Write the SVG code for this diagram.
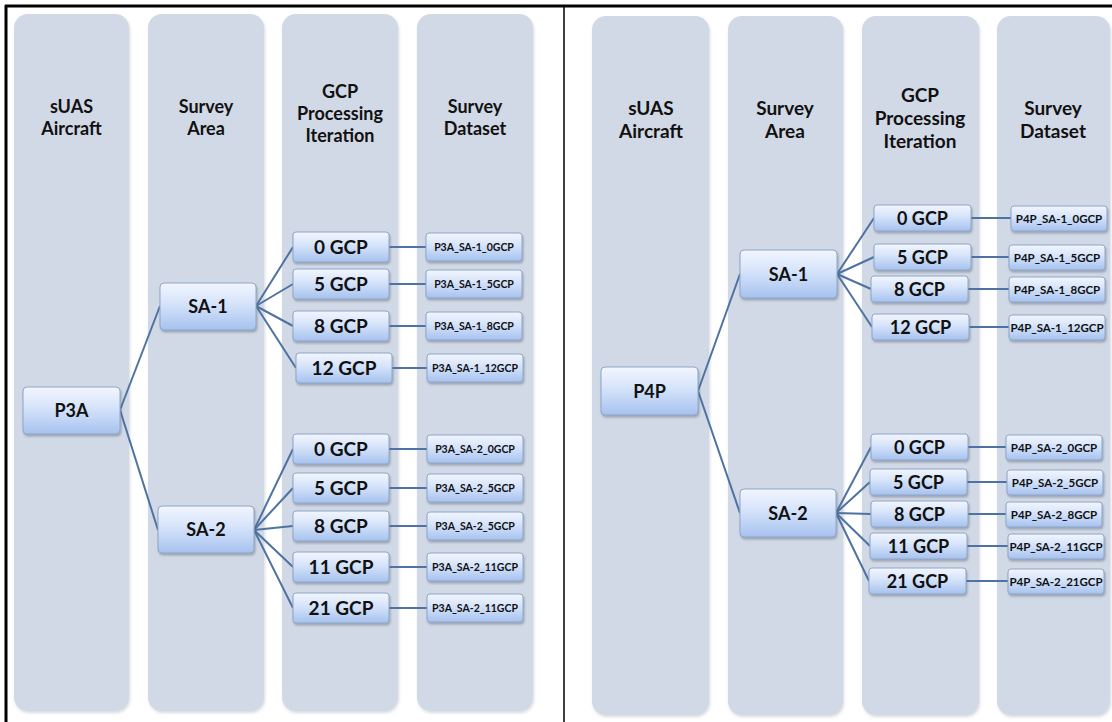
<svg xmlns="http://www.w3.org/2000/svg" width="1112" height="722" viewBox="0 0 1112 722">
<defs>
<linearGradient id="nodeGrad" x1="0" y1="0" x2="0" y2="1">
<stop offset="0" stop-color="#f2f6fe"/>
<stop offset="0.45" stop-color="#d5e3fa"/>
<stop offset="1" stop-color="#a6c2ef"/>
</linearGradient>
<filter id="nshadow" x="-10%" y="-20%" width="125%" height="150%">
<feDropShadow dx="1" dy="2" stdDeviation="1" flood-color="#5a6270" flood-opacity="0.45"/>
</filter>
<filter id="lshadow" x="-10%" y="-5%" width="125%" height="110%">
<feDropShadow dx="1" dy="2" stdDeviation="1.5" flood-color="#8a94a6" flood-opacity="0.35"/>
</filter>
<style>
.lane{fill:#d1d9e6;filter:url(#lshadow)}
.hdr{font-family:Lato,"Liberation Sans",sans-serif;font-weight:bold;fill:#111;text-anchor:middle}
.node rect{fill:url(#nodeGrad);stroke:#8ea6ca;stroke-width:1;filter:url(#nshadow)}
.node text{font-family:Lato,"Liberation Sans",sans-serif;font-weight:bold;fill:#111;text-anchor:middle}
.big{font-size:18px}
.mid{font-size:19px}
.sm{font-size:10.5px}
.sm2{font-size:11.5px}
.conn line{stroke:#4e72a2;stroke-width:2;fill:none}
.frame{stroke:#000;fill:none}
</style>
</defs>
<rect width="1112" height="722" fill="#fff"/>
<g id="frame">
<line class="frame" x1="5" y1="6" x2="1112" y2="6" stroke-width="3"/>
<line class="frame" x1="6" y1="5" x2="6" y2="722" stroke-width="3"/>
<line class="frame" x1="564" y1="6" x2="564" y2="722" stroke-width="1.5"/>
</g>
<g id="lanes-left">
<rect class="lane" x="14" y="14" width="115" height="697" rx="14"/>
<rect class="lane" x="148" y="14" width="116" height="697" rx="14"/>
<rect class="lane" x="282" y="14" width="116" height="697" rx="14"/>
<rect class="lane" x="417" y="14" width="116" height="697" rx="14"/>
<text class="hdr" font-size="18" x="71.5" y="113">sUAS</text>
<text class="hdr" font-size="18" x="71.5" y="135">Aircraft</text>
<text class="hdr" font-size="18" x="206" y="113">Survey</text>
<text class="hdr" font-size="18" x="206" y="135">Area</text>
<text class="hdr" font-size="18" x="340" y="98">GCP</text>
<text class="hdr" font-size="18" x="340" y="120">Processing</text>
<text class="hdr" font-size="18" x="340" y="142">Iteration</text>
<text class="hdr" font-size="18" x="475" y="113">Survey</text>
<text class="hdr" font-size="18" x="475" y="135">Dataset</text>
</g>
<g id="lanes-right">
<rect class="lane" x="592" y="16" width="117" height="699" rx="14"/>
<rect class="lane" x="728" y="16" width="115" height="699" rx="14"/>
<rect class="lane" x="862" y="16" width="117" height="699" rx="14"/>
<rect class="lane" x="997" y="16" width="113" height="699" rx="14"/>
<text class="hdr" font-size="19" x="651" y="115">sUAS</text>
<text class="hdr" font-size="19" x="651" y="138">Aircraft</text>
<text class="hdr" font-size="19" x="785" y="115">Survey</text>
<text class="hdr" font-size="19" x="785" y="138">Area</text>
<text class="hdr" font-size="19" x="920" y="102">GCP</text>
<text class="hdr" font-size="19" x="920" y="125">Processing</text>
<text class="hdr" font-size="19" x="920" y="148">Iteration</text>
<text class="hdr" font-size="19" x="1053" y="115">Survey</text>
<text class="hdr" font-size="19" x="1053" y="138">Dataset</text>
</g>
<g id="connectors" class="conn">
<line x1="120" y1="410" x2="160" y2="306"/>
<line x1="120" y1="410" x2="158" y2="530"/>
<line x1="256" y1="306" x2="293" y2="247"/>
<line x1="256" y1="306" x2="293" y2="284"/>
<line x1="256" y1="306" x2="293" y2="326"/>
<line x1="256" y1="306" x2="296" y2="368"/>
<line x1="254" y1="530" x2="293" y2="449"/>
<line x1="254" y1="530" x2="293" y2="488"/>
<line x1="254" y1="530" x2="293" y2="526"/>
<line x1="254" y1="530" x2="293" y2="567"/>
<line x1="254" y1="530" x2="293" y2="608"/>
<line x1="389" y1="247" x2="426" y2="247"/>
<line x1="389" y1="284" x2="426" y2="284"/>
<line x1="389" y1="326" x2="426" y2="326"/>
<line x1="392" y1="368" x2="427" y2="368"/>
<line x1="389" y1="449" x2="427" y2="449"/>
<line x1="389" y1="488" x2="427" y2="488"/>
<line x1="389" y1="526" x2="427" y2="526"/>
<line x1="389" y1="567" x2="427" y2="567"/>
<line x1="389" y1="608" x2="427" y2="608"/>
<line x1="698" y1="391" x2="740" y2="274"/>
<line x1="698" y1="391" x2="740" y2="513"/>
<line x1="837" y1="274" x2="874" y2="218"/>
<line x1="837" y1="274" x2="874" y2="257"/>
<line x1="837" y1="274" x2="871" y2="289"/>
<line x1="837" y1="274" x2="872" y2="327"/>
<line x1="836" y1="513" x2="871" y2="447"/>
<line x1="836" y1="513" x2="870" y2="482"/>
<line x1="836" y1="513" x2="871" y2="514"/>
<line x1="836" y1="513" x2="870" y2="546"/>
<line x1="836" y1="513" x2="869" y2="581"/>
<line x1="971" y1="218" x2="1011" y2="218"/>
<line x1="971" y1="257" x2="1009" y2="257"/>
<line x1="968" y1="289" x2="1009" y2="289"/>
<line x1="969" y1="327" x2="1009" y2="327"/>
<line x1="968" y1="447" x2="1006" y2="447"/>
<line x1="967" y1="482" x2="1007" y2="482"/>
<line x1="968" y1="514" x2="1006" y2="514"/>
<line x1="967" y1="546" x2="1008" y2="546"/>
<line x1="966" y1="581" x2="1008" y2="581"/>
</g>
<g id="L-P3A" class="node"><rect x="23" y="387" width="97" height="47" rx="4"/><text class="big" x="71.5" y="417">P3A</text></g>
<g id="L-SA1" class="node"><rect x="160" y="283" width="96" height="47" rx="4"/><text class="big" x="208" y="313">SA-1</text></g>
<g id="L-SA2" class="node"><rect x="158" y="506" width="96" height="47" rx="4"/><text class="big" x="206" y="536">SA-2</text></g>
<g id="L-G1-0" class="node"><rect x="293" y="232" width="96" height="30" rx="3"/><text class="mid" x="341" y="254">0 GCP</text></g>
<g id="L-G1-5" class="node"><rect x="293" y="269" width="96" height="30" rx="3"/><text class="mid" x="341" y="291">5 GCP</text></g>
<g id="L-G1-8" class="node"><rect x="293" y="311" width="96" height="30" rx="3"/><text class="mid" x="341" y="333">8 GCP</text></g>
<g id="L-G1-12" class="node"><rect x="296" y="353" width="96" height="30" rx="3"/><text class="mid" x="344" y="375">12 GCP</text></g>
<g id="L-G2-0" class="node"><rect x="293" y="434" width="96" height="30" rx="3"/><text class="mid" x="341" y="456">0 GCP</text></g>
<g id="L-G2-5" class="node"><rect x="293" y="473" width="96" height="30" rx="3"/><text class="mid" x="341" y="495">5 GCP</text></g>
<g id="L-G2-8" class="node"><rect x="293" y="511" width="96" height="30" rx="3"/><text class="mid" x="341" y="533">8 GCP</text></g>
<g id="L-G2-11" class="node"><rect x="293" y="552" width="96" height="30" rx="3"/><text class="mid" x="341" y="574">11 GCP</text></g>
<g id="L-G2-21" class="node"><rect x="293" y="593" width="96" height="30" rx="3"/><text class="mid" x="341" y="615">21 GCP</text></g>
<g id="L-D1-0" class="node"><rect x="426" y="233" width="96" height="28" rx="3"/><text class="sm" x="474" y="251">P3A_SA-1_0GCP</text></g>
<g id="L-D1-5" class="node"><rect x="426" y="270" width="96" height="28" rx="3"/><text class="sm" x="474" y="288">P3A_SA-1_5GCP</text></g>
<g id="L-D1-8" class="node"><rect x="426" y="312" width="96" height="28" rx="3"/><text class="sm" x="474" y="330">P3A_SA-1_8GCP</text></g>
<g id="L-D1-12" class="node"><rect x="427" y="354" width="96" height="28" rx="3"/><text class="sm" x="475" y="372">P3A_SA-1_12GCP</text></g>
<g id="L-D2-0" class="node"><rect x="427" y="435" width="96" height="28" rx="3"/><text class="sm" x="475" y="453">P3A_SA-2_0GCP</text></g>
<g id="L-D2-5" class="node"><rect x="427" y="474" width="96" height="28" rx="3"/><text class="sm" x="475" y="492">P3A_SA-2_5GCP</text></g>
<g id="L-D2-8" class="node"><rect x="427" y="512" width="96" height="28" rx="3"/><text class="sm" x="475" y="530">P3A_SA-2_5GCP</text></g>
<g id="L-D2-11" class="node"><rect x="427" y="553" width="96" height="28" rx="3"/><text class="sm" x="475" y="571">P3A_SA-2_11GCP</text></g>
<g id="L-D2-21" class="node"><rect x="427" y="594" width="96" height="28" rx="3"/><text class="sm" x="475" y="612">P3A_SA-2_11GCP</text></g>
<g id="R-P4P" class="node"><rect x="601" y="367" width="97" height="48" rx="4"/><text class="big" x="649.5" y="397.5">P4P</text></g>
<g id="R-SA1" class="node"><rect x="740" y="250" width="97" height="48" rx="4"/><text class="big" x="788.5" y="280.5">SA-1</text></g>
<g id="R-SA2" class="node"><rect x="740" y="489" width="96" height="48" rx="4"/><text class="big" x="788" y="519.5">SA-2</text></g>
<g id="R-G1-0" class="node"><rect x="874" y="205" width="97" height="26" rx="3"/><text class="big" x="922.5" y="224.5">0 GCP</text></g>
<g id="R-G1-5" class="node"><rect x="874" y="244" width="97" height="26" rx="3"/><text class="big" x="922.5" y="263.5">5 GCP</text></g>
<g id="R-G1-8" class="node"><rect x="871" y="276" width="97" height="26" rx="3"/><text class="big" x="919.5" y="295.5">8 GCP</text></g>
<g id="R-G1-12" class="node"><rect x="872" y="314" width="97" height="26" rx="3"/><text class="big" x="920.5" y="333.5">12 GCP</text></g>
<g id="R-G2-0" class="node"><rect x="871" y="434" width="97" height="26" rx="3"/><text class="big" x="919.5" y="453.5">0 GCP</text></g>
<g id="R-G2-5" class="node"><rect x="870" y="469" width="97" height="26" rx="3"/><text class="big" x="918.5" y="488.5">5 GCP</text></g>
<g id="R-G2-8" class="node"><rect x="871" y="501" width="97" height="26" rx="3"/><text class="big" x="919.5" y="520.5">8 GCP</text></g>
<g id="R-G2-11" class="node"><rect x="870" y="533" width="97" height="26" rx="3"/><text class="big" x="918.5" y="552.5">11 GCP</text></g>
<g id="R-G2-21" class="node"><rect x="869" y="568" width="97" height="26" rx="3"/><text class="big" x="917.5" y="587.5">21 GCP</text></g>
<g id="R-D1-0" class="node"><rect x="1011" y="206" width="96" height="25" rx="3"/><text class="sm2" x="1059" y="222.6">P4P_SA-1_0GCP</text></g>
<g id="R-D1-5" class="node"><rect x="1009" y="245" width="96" height="25" rx="3"/><text class="sm2" x="1057" y="261.6">P4P_SA-1_5GCP</text></g>
<g id="R-D1-8" class="node"><rect x="1009" y="277" width="96" height="25" rx="3"/><text class="sm2" x="1057" y="293.6">P4P_SA-1_8GCP</text></g>
<g id="R-D1-12" class="node"><rect x="1009" y="315" width="96" height="25" rx="3"/><text class="sm2" x="1057" y="331.6">P4P_SA-1_12GCP</text></g>
<g id="R-D2-0" class="node"><rect x="1006" y="435" width="96" height="25" rx="3"/><text class="sm2" x="1054" y="451.6">P4P_SA-2_0GCP</text></g>
<g id="R-D2-5" class="node"><rect x="1007" y="470" width="96" height="25" rx="3"/><text class="sm2" x="1055" y="486.6">P4P_SA-2_5GCP</text></g>
<g id="R-D2-8" class="node"><rect x="1006" y="502" width="96" height="25" rx="3"/><text class="sm2" x="1054" y="518.6">P4P_SA-2_8GCP</text></g>
<g id="R-D2-11" class="node"><rect x="1008" y="534" width="96" height="25" rx="3"/><text class="sm2" x="1056" y="550.6">P4P_SA-2_11GCP</text></g>
<g id="R-D2-21" class="node"><rect x="1008" y="569" width="96" height="25" rx="3"/><text class="sm2" x="1056" y="585.6">P4P_SA-2_21GCP</text></g>
</svg>
